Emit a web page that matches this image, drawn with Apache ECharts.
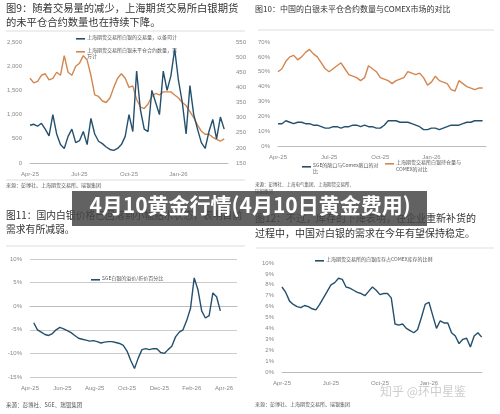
<!DOCTYPE html>
<html><head><meta charset="utf-8">
<script src="https://cdn.jsdelivr.net/npm/echarts@6/dist/echarts.min.js"></script>
<style>html,body{margin:0;background:#fff}#c{width:500px;height:414px}</style>
</head><body><div id="c"></div>
<script>
// 周数据，x 以月为单位（Apr-25 = 0）
const weekStep = 12 / 52;
const quarterLabels = {0:'Apr-25',3:'Jul-25',6:'Oct-25',9:'Jan-26'};
const bimonthLabels = {0:'Apr-25',2:'Jun-25',4:'Aug-25',6:'Oct-25',8:'Dec-25',10:'Feb-26',12:'Apr-26'};

// 图9
const volume = [780,800,760,820,700, 560,1000,600,380, 300,550,700,420, 460,650,380,920,600, 450,400,330,280,
  260,300,380,550, 1000,650,1900,1100, 700,650,1500,1250, 1000,1900,1500,1800,2350, 1700,1250,600,1600,
  1000,700,420,300, 650,900,500,950,700];
const openInterest = [430,415,420,440,445,425,430,450,440, 505,450,440,470,480, 505,490,440, 375,370,355,350,365,
  400,430,445,430,400, 405,360,335,330,345, 370,380,375,385,385,385,375, 365,350,340,320,300,
  275,255,245,245,235,228,222,230];
// 图10
const shfeVsComex = [50,52,57,60,61,58,60,63,65, 62,60,56,52,50,52,54,56,52, 48,47,46,44,46,54,52,50,46,
  45,44,42,44,45,46,50,49,48, 49,46,41,43,47,44,43,42,38, 37,44,42,40,39,38,39,39];
const sgeVsComex = [15,15,17,16,15,16,16,15,15,14, 14,13,12,12,13,13,12,13,13,14, 14,13,14,13,13,12,12,14,17,17,
  17,16,16,16,15,14,13,11,11,12, 12,11,12,13,14,14,14,15,16,16, 17,17,17];
// 图11（从第1周开始）
const sgePremium = [-3.5,-5,-5.5,-6,-6.2,-5.8,-5,-4.5, -4.8,-5.2,-5.6,-6.2,-6.8,-7,-7.2,-7.4,
  -7.3,-7.5,-7.8,-7.6,-7.5,-7.5,-7.7,-7.9, -8.3,-9.5,-11.5,-13.2,-11, -9.2,-9,-9.2,-9,-9,-9.8,-10,-9.2,
  -8.5,-6.5,-5.5,-5,-3,-0.5, 6,3.5,-1,-2.5,-2,2.8,2,-1];
// 图12
const stockRatio = [7.8,7.3,6.5,6.2,6.0,5.9,6.1, 6.0,5.8,5.7,6.2,6.8,7.4, 8.0,8.2,8.6,8.5,7.8,
  7.7,7.5,7.3,7.2,7.0,7.4,7.8,7.5, 7.1,7.2,7.2,6.8,4.4, 4.3,4.4,4.0,3.8,3.6,3.9, 5.0,6.2,6.4,5.2,4.0,
  4.7,4.5,4.5,3.6,3.3,2.6, 3.0,3.1,2.3,3.3,3.6,3.2];

const BLUE = '#24506e', ORANGE = '#d4864e', GRAY = '#888';
const CJK = '"Noto Sans CJK SC", sans-serif';

function pairs(arr, startWeek) {
    return arr.map((v, i) => [(i + startWeek) * weekStep, v]);
}
function xAxis(idx, max, interval, labels) {
    return {
        type: 'value', gridIndex: idx, min: 0, max, interval,
        splitLine: {show: false},
        axisLine: {lineStyle: {color: '#bbb'}}, axisTick: {show: false},
        axisLabel: {fontSize: 6, color: GRAY, showMaxLabel: false, formatter: v => labels[v] || ''}
    };
}
function yAxis(idx, min, max, interval, fmt, pos) {
    return {
        type: 'value', gridIndex: idx, min, max, interval, position: pos || 'left',
        splitLine: {show: false}, axisLine: {show: false}, axisTick: {show: false},
        axisLabel: {fontSize: 6, color: GRAY, formatter: fmt}
    };
}
function line(xi, yi, data, color) {
    return {type: 'line', xAxisIndex: xi, yAxisIndex: yi, data, symbol: 'none',
        lineStyle: {color, width: 1.4}, itemStyle: {color}};
}
function text(x, y, str, size, extra) {
    return {type: 'text', left: x, top: y, style: Object.assign({text: str, fontSize: size, fill: '#333', fontFamily: CJK}, extra || {})};
}
function legendItem(x, y, color, str) {
    return [
        {type: 'rect', shape: {x, y: y + 1, width: 9, height: 1.6}, style: {fill: color}},
        text(x + 11, y - 2, str, 5, {fill: '#555'})
    ];
}
function hr(x1, x2, y) {
    return {type: 'line', shape: {x1, y1: y, x2, y2: y}, style: {stroke: '#ddd', lineWidth: 1}};
}

const chart = echarts.init(document.getElementById('c'));
chart.setOption({
    animation: false,
    grid: [
        {left: 30, top: 42, width: 198, height: 121},
        {left: 278, top: 42, width: 208, height: 104},
        {left: 30, top: 259, width: 207, height: 118},
        {left: 282, top: 263, width: 200, height: 109}
    ],
    xAxis: [xAxis(0, 12, 3, quarterLabels), xAxis(1, 12.2, 3, quarterLabels),
        xAxis(2, 12.8, 2, bimonthLabels), xAxis(3, 12.25, 3, quarterLabels)],
    yAxis: [
        yAxis(0, 0, 2500, 500, v => v.toLocaleString('en-US')),
        yAxis(0, 150, 550, 50, v => v, 'right'),
        yAxis(1, 0, 70, 10, v => v + '%'),
        Object.assign(yAxis(2, -15, 10, 5, v => v + '%'), {splitLine: {show: true, lineStyle: {color: '#ccc'}}}),
        yAxis(3, 0, 10, 1, v => v + '%')
    ],
    series: [
        line(0, 1, pairs(openInterest, 0), ORANGE),
        line(0, 0, pairs(volume, 0), BLUE),
        line(1, 2, pairs(shfeVsComex, 0), ORANGE),
        line(1, 2, pairs(sgeVsComex, 0), BLUE),
        line(2, 3, pairs(sgePremium, 1), BLUE),
        line(3, 4, pairs(stockRatio, 0), BLUE)
    ],
    graphic: [
        text(6, 3, '图9：随着交易量的减少，上海期货交易所白银期货', 10.3),
        text(6, 17, '的未平仓合约数量也在持续下降。', 10.3),
        hr(6, 245, 31),
        ...legendItem(76, 37, BLUE, '上海期货交易所白银的交易量，以备司计'),
        ...legendItem(76, 50, ORANGE, '上海期货交易所白银未平仓合约数量，百'),
        text(87, 54, '万计', 5, {fill: '#555'}),
        hr(6, 245, 180),
        text(6, 183, '来源：彭博社、上海期货交易所、瑞银集团', 5, {fill: '#555'}),

        text(255, 5, '图10：中国的白银未平仓合约数量与COMEX市场的对比', 8),
        hr(258, 494, 30),
        ...legendItem(302, 165, BLUE, 'SGE的敞口与Comex敞口的对'),
        text(313, 169, '比', 5, {fill: '#555'}),
        ...legendItem(385, 162, ORANGE, '上海期货交易所白银持仓量与'),
        text(396, 167, 'COMEX的对比', 5, {fill: '#555'}),
        text(255, 182, '来源：彭博社、上海电气集团、上海期货交易所、', 4.5, {fill: '#555'}),
        text(255, 189, '瑞银集团', 4.5, {fill: '#555'}),

        text(6, 210, '图11：国内白银价格已回落到小幅贴水状态，表明目前', 9.8),
        text(6, 224, '需求有所减弱。', 9.8),
        hr(6, 245, 246),
        ...legendItem(91, 278, BLUE, 'SGE白银的溢价/折价百分比'),
        text(6, 402, '来源：彭博社、SGE、瑞银集团', 5.5, {fill: '#555'}),

        text(255, 213, '图12：不过，库存的下降表明，在企业重新补货的', 10),
        text(255, 228, '过程中，中国对白银的需求在今年有望保持稳定。', 10),
        hr(256, 494, 248),
        ...legendItem(315, 259, BLUE, '上海期货交易所的白银库存占COMEX库存的比例'),
        text(380, 385, '知乎 @环中星鉴', 12, {fill: 'rgba(200,200,200,0.9)'}),
        text(255, 402, '来源：彭博社、上海期货交易所、瑞银集团', 5, {fill: '#555'}),

        {type: 'rect', shape: {x: 72, y: 191, width: 355, height: 35}, style: {fill: 'rgba(70,70,70,0.85)'}},
        {type: 'text', left: 'center', top: 195, style: {text: '4月10黄金行情(4月10日黄金费用)', fontSize: 21,
            fontWeight: 'bold', fill: '#fff', fontFamily: CJK}}
    ]
});
</script>
</body></html>
